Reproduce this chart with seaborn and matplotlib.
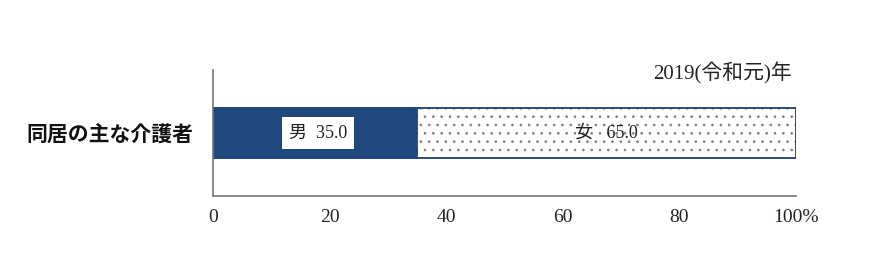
import matplotlib
matplotlib.use("Agg")
import matplotlib.pyplot as plt
import seaborn as sns
import pandas as pd

categories = ["同居の主な介護者"]
male_values = [35.0]
female_values = [65.0]
segment_labels = ["男", "女"]
x_ticks = [0, 20, 40, 60, 80, 100]
x_tick_labels = ["0", "20", "40", "60", "80", "100%"]
year_note = "2019(令和元)年"

sns.set_theme(style="white")
plt.rcParams["font.family"] = ["Noto Sans CJK JP", "DejaVu Sans"]
plt.rcParams["hatch.linewidth"] = 0.7

SERIF = ["Liberation Serif", "Noto Sans CJK JP", "DejaVu Sans"]

totals = [m + f for m, f in zip(male_values, female_values)]
df = pd.DataFrame({"category": categories, "male": male_values,
                   "female": female_values, "total": totals})

fig = plt.figure(figsize=(8.7, 2.7), dpi=100)
ax = fig.add_axes([213/870, 1-196/270, (796-213)/870, (196-70)/270])

# dotted background (female share), grey dots
sns.barplot(data=df, x="total", y="category", orient="h", ax=ax,
            color="white", edgecolor="#808080", linewidth=0,
            hatch="..", width=0.39, saturation=1)
# navy outline of the whole bar
sns.barplot(data=df, x="total", y="category", orient="h", ax=ax,
            fill=False, edgecolor="#1f3f6e", linewidth=1.3,
            width=0.39, saturation=1)
# male share
sns.barplot(data=df, x="male", y="category", orient="h", ax=ax,
            color="#1f497d", edgecolor="#1f497d", linewidth=1.3,
            width=0.39, saturation=1)

ax.set_xlim(0, 100)
ax.set_ylim(0.5, -0.5)
ax.set_xticks(x_ticks)
ax.set_xticklabels(x_tick_labels, family=SERIF, fontsize=14, color="#222222")
ax.tick_params(axis="x", direction="in", length=6, width=1.2, color="#777777", pad=9)
ax.tick_params(axis="y", length=0, pad=14)
for lbl in ax.get_yticklabels():
    lbl.set_fontsize(15)
    lbl.set_fontweight("bold")
    lbl.set_color("#111111")
ax.set_xlabel("")
ax.set_ylabel("")

for s in ["top", "right"]:
    ax.spines[s].set_visible(False)
for s in ["left", "bottom"]:
    ax.spines[s].set_color("#777777")
    ax.spines[s].set_linewidth(1.2)

for i, (m, f) in enumerate(zip(male_values, female_values)):
    ax.text(m / 2 + 0.5, i, f"{segment_labels[0]}  {m:.1f}", ha="center", va="center",
            fontsize=13, color="#222222", family=SERIF,
            bbox=dict(boxstyle="square,pad=0.4", facecolor="white", edgecolor="none"))
    ax.text(m + f / 2, i, f"{segment_labels[1]}   {f:.1f}", ha="center", va="center",
            fontsize=13, color="#222222", family=SERIF)

ax.text(0.993, 0.975, year_note, transform=ax.transAxes, ha="right", va="center",
        fontsize=15, color="#222222", family=SERIF)

fig.savefig("out.png", dpi=100)
